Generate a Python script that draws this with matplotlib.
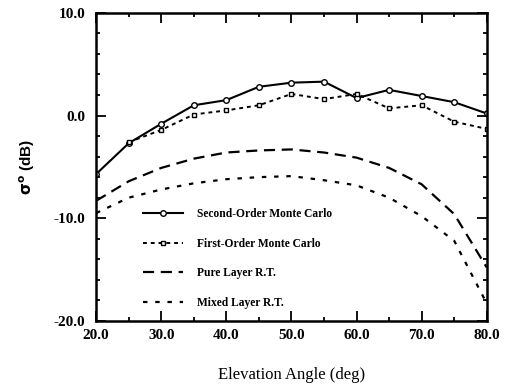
import numpy as np
import matplotlib
matplotlib.use("Agg")
import matplotlib.pyplot as plt
from matplotlib.ticker import MultipleLocator, FormatStrFormatter

# elevation angles (deg)
angle = [20, 25, 30, 35, 40, 45, 50, 55, 60, 65, 70, 75, 80]
angle_first = angle[1:]

# backscatter (dB)
second_mc = [-5.7, -2.7, -0.8, 1.0, 1.5, 2.8, 3.2, 3.3, 1.7, 2.5, 1.9, 1.3, 0.2]
first_mc = [-2.6, -1.4, 0.1, 0.5, 1.0, 2.1, 1.6, 2.1, 0.7, 1.0, -0.6, -1.3]
pure_rt = [-8.3, -6.4, -5.1, -4.2, -3.6, -3.4, -3.3, -3.6, -4.1, -5.1, -6.7, -9.6, -14.8]
mixed_rt = [-9.5, -8.0, -7.2, -6.6, -6.2, -6.0, -5.9, -6.3, -6.8, -8.0, -9.8, -12.2, -18.3]

legend_names = ['Second-Order Monte Carlo', 'First-Order Monte Carlo',
                'Pure Layer R.T.', 'Mixed Layer R.T.']

fig = plt.figure(figsize=(5.06, 3.89), dpi=100)
ax = fig.add_axes([0.190, 0.175, 0.772, 0.792])

ax.plot(angle, second_mc, '-', color='black', lw=1.5, marker='o', ms=4,
        mfc='white', mew=1.0, label=legend_names[0])
ax.plot(angle_first, first_mc, linestyle=(0, (2, 2)), color='black', lw=1.4,
        marker='s', ms=3.5, mfc='white', mew=1.0, label=legend_names[1])
ax.plot(angle, pure_rt, linestyle=(0, (5, 3)), color='black', lw=1.6,
        label=legend_names[2])
ax.plot(angle, mixed_rt, linestyle=(0, (2, 3.5)), color='black', lw=1.6,
        label=legend_names[3])

ax.set_xlim(20, 80)
ax.set_ylim(-20, 10)

ax.xaxis.set_major_locator(MultipleLocator(10))
ax.xaxis.set_minor_locator(MultipleLocator(5))
ax.yaxis.set_major_locator(MultipleLocator(10))
ax.yaxis.set_minor_locator(MultipleLocator(2))
ax.xaxis.set_major_formatter(FormatStrFormatter('%.1f'))
ax.yaxis.set_major_formatter(FormatStrFormatter('%.1f'))

ax.tick_params(which='both', direction='in', top=True, right=True, width=1.3)
ax.tick_params(which='major', length=7)
ax.tick_params(which='minor', length=3)
ax.tick_params(axis='x', pad=6)
ax.tick_params(axis='y', pad=8)

for s in ax.spines.values():
    s.set_linewidth(1.8)

for lab in ax.get_xticklabels() + ax.get_yticklabels():
    lab.set_fontfamily('Liberation Serif')
    lab.set_fontweight('bold')
    lab.set_fontsize(11)

ax.set_xlabel('Elevation Angle (deg)', fontfamily='Liberation Serif',
              fontsize=12, labelpad=18)
ax.set_ylabel(r'$\mathbf{\sigma^o}$ (dB)', fontfamily='Liberation Sans',
              fontweight='bold', fontsize=11, labelpad=12)

leg = ax.legend(loc='lower left', bbox_to_anchor=(0.093, 0.005), frameon=False,
                numpoints=1, handlelength=3.5, handletextpad=1.2,
                labelspacing=1.52,
                prop={'family': 'Liberation Serif', 'weight': 'bold', 'size': 8.3})

fig.savefig('out.png', dpi=100)
